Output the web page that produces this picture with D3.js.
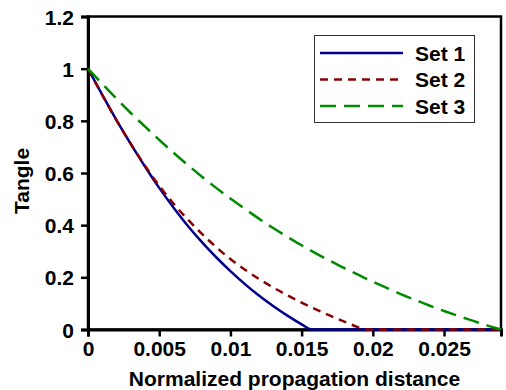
<!DOCTYPE html>
<html>
<head>
<meta charset="utf-8">
<script src="https://cdn.jsdelivr.net/npm/d3@7"></script>
<style>
  body { margin: 0; background: #fff; }
  text { font-family: "Liberation Sans", Arial, sans-serif; font-weight: bold; fill: #000; }
</style>
</head>
<body>
<div id="myChart"></div>
<script>
// values
const set1X = [0, 0.001, 0.002, 0.003, 0.004, 0.005, 0.006, 0.007, 0.008, 0.009, 0.010, 0.011, 0.012, 0.013, 0.014, 0.015, 0.0157, 0.029];
const set1Y = [1, 0.900, 0.803, 0.712, 0.625, 0.543, 0.468, 0.398, 0.335, 0.277, 0.224, 0.175, 0.130, 0.090, 0.053, 0.020, 0, 0];

const set2X = [0, 0.001, 0.002, 0.003, 0.004, 0.005, 0.006, 0.007, 0.008, 0.009, 0.010, 0.011, 0.012, 0.013, 0.014, 0.015, 0.016, 0.017, 0.018, 0.019, 0.0194, 0.029];
const set2Y = [1, 0.899, 0.802, 0.712, 0.628, 0.551, 0.483, 0.422, 0.367, 0.316, 0.270, 0.230, 0.194, 0.161, 0.131, 0.103, 0.077, 0.053, 0.030, 0.008, 0, 0];

const set3X = [0, 0.001, 0.002, 0.003, 0.004, 0.005, 0.006, 0.007, 0.008, 0.009, 0.010, 0.011, 0.012, 0.013, 0.014, 0.015, 0.016, 0.017, 0.018, 0.019, 0.020, 0.021, 0.022, 0.023, 0.024, 0.025, 0.026, 0.027, 0.028, 0.029];
const set3Y = [1, 0.942, 0.885, 0.830, 0.778, 0.727, 0.678, 0.631, 0.586, 0.543, 0.502, 0.463, 0.425, 0.389, 0.355, 0.323, 0.292, 0.263, 0.235, 0.209, 0.183, 0.159, 0.135, 0.113, 0.091, 0.071, 0.052, 0.034, 0.016, 0];

const seriesNames = ['Set 1', 'Set 2', 'Set 3'];
const xTicks = [0, 0.005, 0.01, 0.015, 0.02, 0.025];
const yTicks = [0, 0.2, 0.4, 0.6, 0.8, 1, 1.2];

const width = 506, height = 390;
const plotLeft = 88, plotRight = 501, plotTop = 16.5, plotBottom = 329.5;

const svg = d3.select('#myChart')
  .append('svg')
  .attr('width', width)
  .attr('height', height);

const x = d3.scaleLinear().domain([0, 0.029]).range([plotLeft, plotRight]);
const y = d3.scaleLinear().domain([0, 1.2]).range([plotBottom, plotTop]);

// frame (top + right)
svg.append('rect')
  .attr('x', plotLeft).attr('y', plotTop)
  .attr('width', plotRight - plotLeft).attr('height', plotBottom - plotTop)
  .attr('fill', 'none').attr('stroke', '#000').attr('stroke-width', 2.5);

const xAxis = svg.append('g')
  .attr('transform', 'translate(0,' + plotBottom + ')')
  .call(d3.axisBottom(x).tickValues(xTicks).tickSize(7).tickPadding(5)
    .tickFormat(d => String(+d.toFixed(3))));
const yAxis = svg.append('g')
  .attr('transform', 'translate(' + plotLeft + ',0)')
  .call(d3.axisLeft(y).tickValues(yTicks).tickSize(7).tickPadding(7)
    .tickFormat(d => String(+d.toFixed(1))));

[xAxis, yAxis].forEach(g => {
  g.select('.domain').attr('stroke', '#000').attr('stroke-width', 3);
  g.selectAll('.tick line').attr('stroke', '#000').attr('stroke-width', 2.5);
  g.selectAll('.tick text')
    .style('font-family', '"Liberation Sans", Arial, sans-serif')
    .style('font-weight', 'bold')
    .style('font-size', '21px')
    .attr('fill', '#000');
});
yAxis.selectAll('.tick text').attr('dy', '0.36em');

svg.append('text')
  .attr('x', (plotLeft + plotRight) / 2).attr('y', 386)
  .attr('text-anchor', 'middle')
  .style('font-size', '21px')
  .text('Normalized propagation distance');

svg.append('text')
  .attr('transform', 'translate(29,181) rotate(-90)')
  .attr('text-anchor', 'middle')
  .style('font-size', '21px')
  .text('Tangle');

const series = [
  { name: seriesNames[0], xs: set1X, ys: set1Y, color: '#00008b', dash: null },
  { name: seriesNames[1], xs: set2X, ys: set2Y, color: '#8b0000', dash: '8,6' },
  { name: seriesNames[2], xs: set3X, ys: set3Y, color: '#008a00', dash: '16,8' },
];

const line = d3.line()
  .x(d => x(d[0]))
  .y(d => y(d[1]))
  .curve(d3.curveMonotoneX);

series.forEach(s => {
  svg.append('path')
    .datum(s.xs.map((v, i) => [v, s.ys[i]]))
    .attr('d', line)
    .attr('fill', 'none')
    .attr('stroke', s.color)
    .attr('stroke-width', 2.5)
    .attr('stroke-dasharray', s.dash);
});

// legend
const legend = svg.append('g');
legend.append('rect')
  .attr('x', 314.5).attr('y', 35.5)
  .attr('width', 160).attr('height', 87)
  .attr('fill', '#fff').attr('stroke', '#333').attr('stroke-width', 1);

series.forEach((s, i) => {
  const ly = 53 + i * 26.5;
  legend.append('line')
    .attr('x1', 320).attr('x2', 403)
    .attr('y1', ly).attr('y2', ly)
    .attr('stroke', s.color)
    .attr('stroke-width', 2.5)
    .attr('stroke-dasharray', s.dash);
  legend.append('text')
    .attr('x', 415).attr('y', ly + 7.5)
    .style('font-size', '21px')
    .text(s.name);
});
</script>
</body>
</html>
